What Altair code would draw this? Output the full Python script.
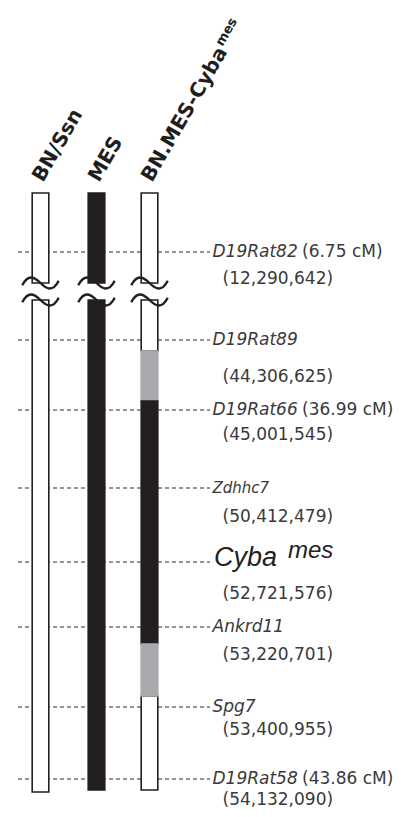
import math
import altair as alt
import pandas as pd

# ---------------- data ----------------
strains = ["BN/Ssn", "MES", "BN.MES-Cyba"]
strain_col = [40.5, 96.5, 149.5]          # map column of each strain

# chromosome segments (strain, start, end, genotype) in map units
seg_strain = ["BN/Ssn", "BN/Ssn", "MES", "MES",
              "BN.MES-Cyba", "BN.MES-Cyba", "BN.MES-Cyba",
              "BN.MES-Cyba", "BN.MES-Cyba", "BN.MES-Cyba"]
seg_start = [193, 300, 193, 300, 193, 300, 696, 351, 401, 644]
seg_end = [283, 792, 283, 790, 283, 351, 790, 401, 644, 696]
seg_geno = ["BN", "BN", "MES", "MES", "BN", "BN", "BN", "unknown", "MES", "unknown"]

break_pos = [283, 300]

markers = ["D19Rat82", "D19Rat89", "D19Rat66", "Zdhhc7", "Cyba",
           "Ankrd11", "Spg7", "D19Rat58"]
marker_pos = [252, 340, 410, 488, 562, 627, 707, 779]
marker_cm = ["(6.75 cM)", "", "(36.99 cM)", "", "", "", "", "(43.86 cM)"]
marker_bp = ["(12,290,642)", "(44,306,625)", "(45,001,545)", "(50,412,479)",
             "(52,721,576)", "(53,220,701)", "(53,400,955)", "(54,132,090)"]
bp_label_pos = [279, 377, 435, 517, 594, 655, 730, 800]

# ---------------- layout constants ----------------
W, H = 387, 801
XS = alt.Scale(domain=[8, 395], nice=False, zero=False)
YS = alt.Scale(domain=[8, 809], nice=False, zero=False, reverse=True)
HALF = 8.3
LEAD_X0, LEAD_X1 = 18, 210
LABEL_X, BP_X, CM_X = 212.5, 222.5, 302
TXT = "#3a3a3a"
DARK = "#231f20"
GRAY = "#a8aaad"
TITLE_FS = 20
TITLE_DX, TITLE_Y = 2.5, 183

seg_df = pd.DataFrame({"strain": seg_strain, "start": seg_start,
                       "end": seg_end, "geno": seg_geno})
seg_df["col"] = seg_df["strain"].map(dict(zip(strains, strain_col)))

brk_df = pd.DataFrame([(c, b) for c in strain_col for b in break_pos],
                      columns=["col", "pos"])

mk_df = pd.DataFrame({"name": markers, "pos": marker_pos, "cm": marker_cm,
                      "bp": marker_bp, "bppos": bp_label_pos})

title_df = pd.DataFrame({"strain": strains, "col": strain_col})

geno_fill = alt.Scale(domain=["BN", "MES", "unknown"], range=["white", DARK, GRAY])
geno_stroke = alt.Scale(domain=["BN", "MES", "unknown"], range=[DARK, DARK, GRAY])

# leader (dashed) lines
leaders = alt.Chart(mk_df).mark_rule(
    color="#2a2a2a", strokeWidth=1.2, strokeDash=[4, 3]
).encode(
    x=alt.X(datum=LEAD_X0, scale=XS, axis=None),
    x2=alt.X2(datum=LEAD_X1),
    y=alt.Y("pos:Q", scale=YS, axis=None),
)

# chromosome bars
bars = alt.Chart(seg_df).mark_rect(
    strokeWidth=1.6, xOffset=-HALF, x2Offset=HALF
).encode(
    x=alt.X("col:Q", scale=XS, axis=None),
    x2="col:Q",
    y=alt.Y("start:Q", scale=YS, axis=None),
    y2="end:Q",
    fill=alt.Fill("geno:N", scale=geno_fill, legend=None),
    stroke=alt.Stroke("geno:N", scale=geno_stroke, legend=None),
)

# break squiggles (custom tilde symbol)
tilde = "M -1 0.12 C -0.65 -0.55 -0.3 -0.3 0 0 C 0.3 0.3 0.65 0.55 1 -0.12"
breaks = alt.Chart(brk_df).mark_point(
    shape=tilde, size=1330, filled=False, stroke=DARK, strokeWidth=2.4, opacity=1
).encode(
    x=alt.X("col:Q", scale=XS, axis=None),
    y=alt.Y("pos:Q", scale=YS, axis=None),
)

# rotated strain titles
ANG = 300
titles = alt.Chart(title_df).transform_calculate(
    tx=f"datum.col + {TITLE_DX}"
).mark_text(
    angle=ANG, align="left", baseline="alphabetic",
    font="DejaVu Sans", fontWeight="bold", fontSize=TITLE_FS, color="#1e1e1e"
).encode(
    x=alt.X("tx:Q", scale=XS, axis=None),
    y=alt.Y(datum=TITLE_Y, scale=YS, axis=None),
    text="strain:N",
)

# superscript "mes" in the congenic title
L = 7.569 * TITLE_FS + 1.5
a = math.radians(60)
d = (math.cos(a), -math.sin(a))
u = (-math.sin(a), -math.cos(a))
px, py = strain_col[2] + TITLE_DX, TITLE_Y
mx, my = px + L * d[0] + 7 * u[0], py + L * d[1] + 7 * u[1]
title_sup = alt.Chart(pd.DataFrame({"t": ["mes"]})).mark_text(
    angle=ANG, align="left", baseline="alphabetic",
    font="DejaVu Sans", fontWeight="bold", fontSize=13, color="#1e1e1e"
).encode(
    x=alt.X(datum=mx, scale=XS, axis=None),
    y=alt.Y(datum=my, scale=YS, axis=None),
    text="t:N",
)

# marker names (italic)
names = alt.Chart(mk_df).transform_filter(
    "datum.name != 'Cyba'"
).mark_text(
    align="left", baseline="middle", font="DejaVu Sans", fontStyle="italic",
    color=TXT
).encode(
    x=alt.X(datum=LABEL_X, scale=XS, axis=None),
    y=alt.Y("pos:Q", scale=YS, axis=None),
    text="name:N",
    size=alt.condition("datum.name == 'Zdhhc7'", alt.value(15), alt.value(17)),
)

cm_txt = alt.Chart(mk_df).transform_filter(
    "datum.cm != ''"
).mark_text(
    align="left", baseline="middle", font="DejaVu Sans", fontSize=17, color=TXT
).encode(
    x=alt.X(datum=CM_X, scale=XS, axis=None),
    y=alt.Y("pos:Q", scale=YS, axis=None),
    text="cm:N",
)

bp_txt = alt.Chart(mk_df).mark_text(
    align="left", baseline="middle", font="DejaVu Sans", fontSize=17, color=TXT
).encode(
    x=alt.X(datum=BP_X, scale=XS, axis=None),
    y=alt.Y("bppos:Q", scale=YS, axis=None),
    text="bp:N",
)

cyba_df = mk_df[mk_df["name"] == "Cyba"]
cyba = alt.Chart(cyba_df).transform_calculate(
    by="datum.pos + 4"
).mark_text(
    align="left", baseline="alphabetic", font="Liberation Sans",
    fontStyle="italic", fontSize=27, color="#222222"
).encode(
    x=alt.X(datum=214, scale=XS, axis=None),
    y=alt.Y("by:Q", scale=YS, axis=None),
    text="name:N",
)
cyba_sup = alt.Chart(cyba_df).transform_calculate(
    by="datum.pos - 4", t="'mes'"
).mark_text(
    align="left", baseline="alphabetic", font="Liberation Sans",
    fontStyle="italic", fontSize=24, color="#222222"
).encode(
    x=alt.X(datum=288, scale=XS, axis=None),
    y=alt.Y("by:Q", scale=YS, axis=None),
    text="t:N",
)

chart = alt.layer(
    leaders, bars, breaks, titles, title_sup, names, cm_txt, bp_txt, cyba, cyba_sup
).properties(
    width=W, height=H, padding=0, autosize=alt.AutoSizeParams(type="none")
).configure_view(stroke=None)

chart.save("out.html", embed_options={"renderer": "svg", "actions": False})
